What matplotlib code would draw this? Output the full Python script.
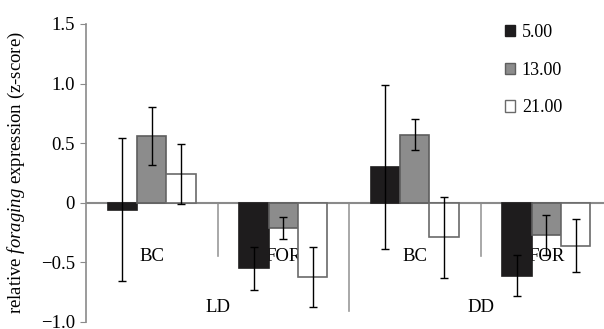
import numpy as np
import matplotlib
matplotlib.use("Agg")
import matplotlib.pyplot as plt
from matplotlib.patches import Patch

plt.rcParams["font.family"] = "Liberation Serif"
plt.rcParams["mathtext.fontset"] = "custom"
plt.rcParams["mathtext.rm"] = "Liberation Serif"
plt.rcParams["mathtext.it"] = "Liberation Serif:italic"

# dados
subgrupos = ["BC", "FOR", "BC", "FOR"]
grupos = ["LD", "DD"]
series = ["5.00", "13.00", "21.00"]
valores = {
    "5.00": [-0.06, -0.55, 0.30, -0.61],
    "13.00": [0.56, -0.21, 0.57, -0.27],
    "21.00": [0.24, -0.62, -0.29, -0.36],
}
erros = {
    "5.00": [0.60, 0.18, 0.69, 0.17],
    "13.00": [0.24, 0.09, 0.13, 0.17],
    "21.00": [0.25, 0.25, 0.34, 0.22],
}
cores = {"5.00": "#1e1c1d", "13.00": "#8c8c8c", "21.00": "#ffffff"}
bordas = {"5.00": "#1e1c1d", "13.00": "#5e5e5e", "21.00": "#6a6a6a"}

fig = plt.figure(figsize=(6.04, 3.29), dpi=100)
ax = fig.add_axes([86 / 604, 7 / 329, 526 / 604, 298 / 329])

x = np.arange(len(subgrupos)) + 0.5
largura = 0.224
for i, s in enumerate(series):
    pos = x + (i - 1) * largura
    ax.bar(pos, valores[s], largura, color=cores[s], edgecolor=bordas[s],
           linewidth=1.2, zorder=3)
    ax.errorbar(pos, valores[s], yerr=erros[s], fmt="none", ecolor="black",
                elinewidth=1, capsize=3, capthick=1, zorder=4)

ax.set_xlim(0, 4)
ax.set_ylim(-1.0, 1.5)
ax.axhline(0, color="#8a8a8a", linewidth=1.5, zorder=2)

# linhas separadoras do eixo de categorias
for xs, yb in [(1, -0.45), (2, -0.91), (3, -0.45)]:
    ax.plot([xs, xs], [0, yb], color="#9a9a9a", linewidth=1.2, zorder=1,
            clip_on=False)

for xc, nome in zip(x, subgrupos):
    ax.text(xc, -0.45, nome, ha="center", va="center", fontsize=13.5, zorder=2)
for xc, nome in zip([1, 3], grupos):
    ax.text(xc, -0.88, nome, ha="center", va="center", fontsize=13.5, zorder=2)

ax.set_yticks([-1.0, -0.5, 0, 0.5, 1.0, 1.5])
ax.set_yticklabels(["\u22121.0", "\u22120.5", "0", "0.5", "1.0", "1.5"])
ax.tick_params(axis="y", direction="out", length=4, color="#8a8a8a",
               labelsize=13.5, pad=4)
ax.tick_params(axis="x", bottom=False, labelbottom=False)
for lado in ["top", "right", "bottom"]:
    ax.spines[lado].set_visible(False)
ax.spines["left"].set_color("#8a8a8a")
ax.spines["left"].set_linewidth(1.2)

ax.set_ylabel(r"relative $\it{foraging}$ expression (z-score)", fontsize=13.5)
ax.yaxis.set_label_coords(-0.112, 0.5)

handles = [Patch(facecolor=cores[s], edgecolor=bordas[s], linewidth=1) for s in series]
ax.legend(handles, series, loc="upper left", bbox_to_anchor=(0.765, 1.055),
          frameon=False, fontsize=13, handlelength=0.6, handleheight=0.6,
          handletextpad=0.35, labelspacing=1.15)

fig.savefig("out.png", dpi=100)
